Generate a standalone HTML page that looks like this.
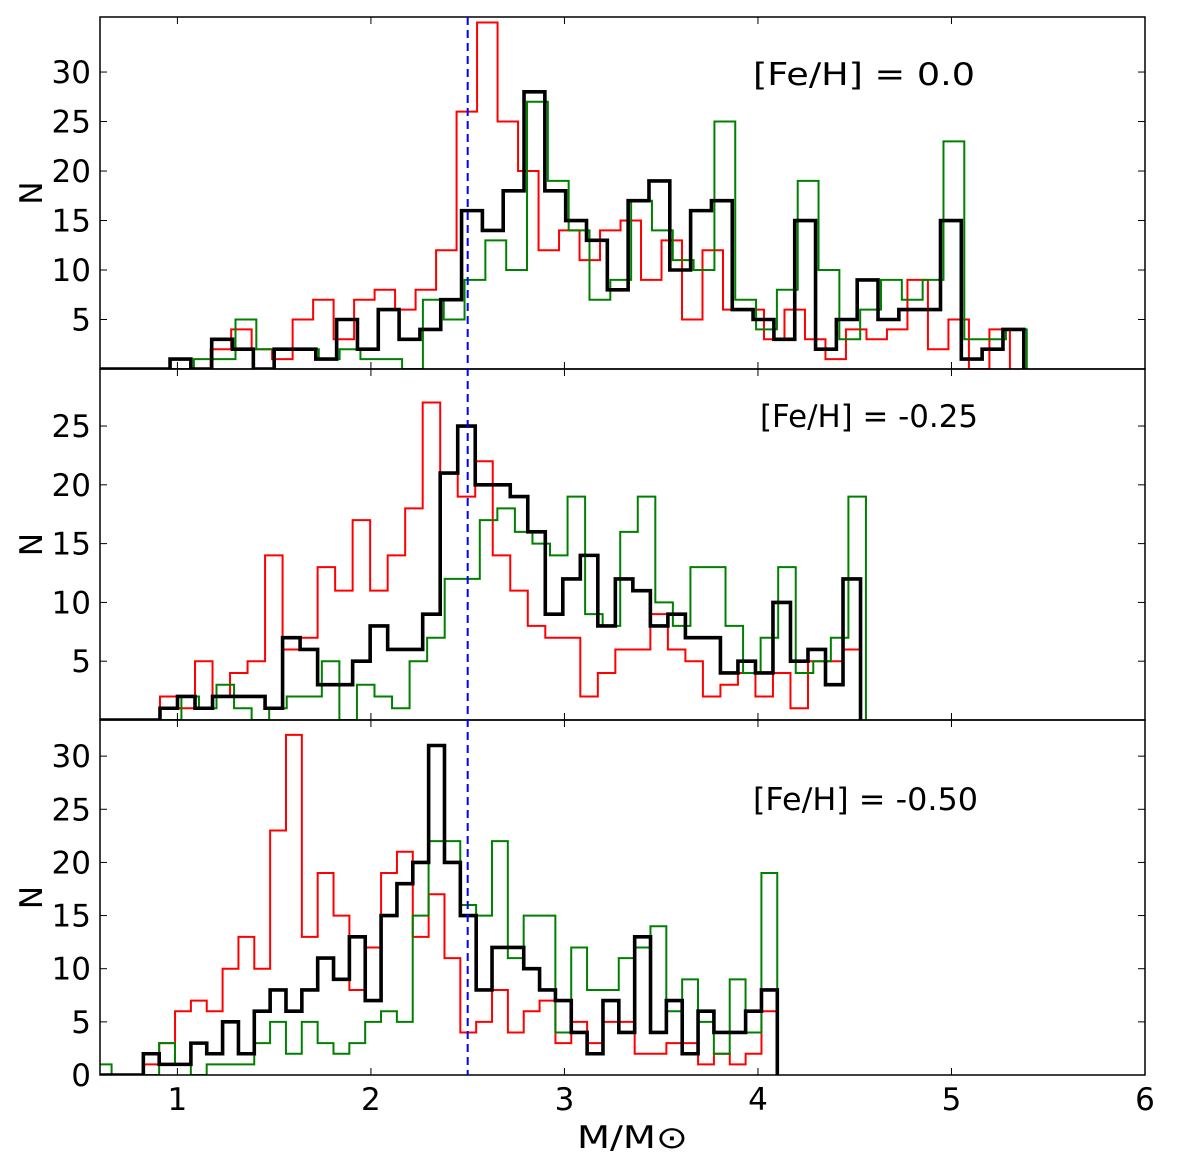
<!DOCTYPE html>
<html><head><meta charset="utf-8"><style>
html,body{margin:0;padding:0;background:#fff;}
svg{display:block;font-family:"DejaVu Sans","Liberation Sans",sans-serif;}
</style></head><body>
<svg id="chart" width="1200" height="1172" viewBox="0 0 1200 1172" xmlns="http://www.w3.org/2000/svg"></svg>
<script>
// ---- data ----
const xTicks = [1,2,3,4,5,6];
const panelLabels = ["[Fe/H] = 0.0","[Fe/H] = -0.25","[Fe/H] = -0.50"];
const yTicksTop = [5,10,15,20,25,30];
const yTicksMid = [5,10,15,20,25];
const yTicksBot = [0,5,10,15,20,25,30];
const dividingMass = 2.5;

// top panel [Fe/H]=0.0
const topRedStart = 0.96, topRedWidth = 0.1059;
const topRed = [1,0,2,4,2,1,5,7,3,7,8,6,8,12,26,35,25,20,12,14,11,14,15,9,13,5,12,6,6,3,6,3,1,4,3,4,9,2,5,0,4];
const topGreenStart = 1.085, topGreenWidth = 0.1076;
const topGreen = [1,1,5,2,2,2,1,2,1,1,0,7,5,9,13,10,27,19,14,7,9,17,14,11,10,25,7,4,8,19,10,3,6,9,7,9,23,3,3,4];
const topBlackStart = 0.962, topBlackWidth = 0.1076;
const topBlack = [1,0,3,2,0,2,2,1,5,2,6,3,4,7,16,14,18,28,18,15,13,8,17,19,10,16,17,6,5,3,15,2,5,9,5,6,6,15,1,2,4];

// middle panel [Fe/H]=-0.25
const midRedStart = 0.91, midRedWidth = 0.0905;
const midRed = [2,1,5,2,4,5,14,6,7,13,11,17,11,14,18,27,21,19,22,14,11,8,7,7,2,4,6,6,9,6,5,2,3,4,2,4,1,5,5,6];
const midGreenStart = 0.93, midGreenWidth = 0.0907;
const midGreen = [0,2,1,3,1,0,1,2,2,5,0,3,2,1,5,7,12,12,17,18,16,15,14,19,9,8,16,19,10,8,13,13,8,4,7,13,4,5,7,19];
const midBlackStart = 0.91, midBlackWidth = 0.0905;
const midBlack = [1,2,1,2,2,2,1,7,6,3,3,5,8,6,6,9,21,25,20,20,19,16,9,12,14,8,12,11,8,9,7,7,4,5,4,10,5,6,3,12];

// bottom panel [Fe/H]=-0.50
const botRedStart = 0.824, botRedWidth = 0.0819;
const botRed = [1,3,6,7,6,10,13,10,23,32,13,19,15,8,12,19,21,13,17,11,4,5,8,4,6,7,3,5,3,5,5,2,2,3,3,1,2,1,2,6];
const botGreenStart = 0.578, botGreenWidth = 0.0819;
const botGreen = [1,0,0,0,3,1,0,1,1,1,3,5,2,5,3,2,3,5,6,5,15,22,22,16,15,22,11,15,15,4,12,8,8,11,12,14,6,9,5,2,9,4,19];
const botBlackStart = 0.824, botBlackWidth = 0.0819;
const botBlack = [2,1,1,3,2,5,2,6,8,6,8,11,9,13,7,15,18,20,31,20,15,8,12,12,10,8,7,4,2,7,4,13,4,7,2,6,4,4,6,8];

// ---- layout ----
const NS = "http://www.w3.org/2000/svg";
const svg = document.getElementById("chart");
const X0 = 100, X1 = 1145, XMIN = 0.6, XMAX = 6.0;
const FS = 31;
function xs(v){ return X0 + (v - XMIN) * (X1 - X0) / (XMAX - XMIN); }
const panels = [
  {top:17, bottom:369, ymax:35.56, ticks:yTicksTop, label:panelLabels[0], lx:753, ly:85, lw:222, name:"top",
   series:[[topRed,topRedStart,topRedWidth,"#ff0000",2],[topGreen,topGreenStart,topGreenWidth,"#008000",2],[topBlack,topBlackStart,topBlackWidth,"#000000",3.6]]},
  {top:369, bottom:720, ymax:29.85, ticks:yTicksMid, label:panelLabels[1], lx:760, ly:427, lw:218, name:"middle",
   series:[[midRed,midRedStart,midRedWidth,"#ff0000",2],[midGreen,midGreenStart,midGreenWidth,"#008000",2],[midBlack,midBlackStart,midBlackWidth,"#000000",3.6]]},
  {top:720, bottom:1075, ymax:33.4, ticks:yTicksBot, label:panelLabels[2], lx:753, ly:810, lw:225, name:"bottom",
   series:[[botRed,botRedStart,botRedWidth,"#ff0000",2],[botGreen,botGreenStart,botGreenWidth,"#008000",2],[botBlack,botBlackStart,botBlackWidth,"#000000",3.6]]}
];
const seriesNames = ["red-histogram","green-histogram","black-histogram"];

function mk(tag, attrs){ const e = document.createElementNS(NS, tag); for (const k in attrs) e.setAttribute(k, attrs[k]); return e; }

const defs = mk("defs", {});
svg.appendChild(defs);

panels.forEach((p, pi) => {
  const ys = v => p.bottom - v * (p.bottom - p.top) / p.ymax;
  const g = mk("g", {});
  
  
  svg.appendChild(g);
  const cp = mk("clipPath", {id:"clip"+pi});
  cp.appendChild(mk("rect", {x:X0, y:p.top, width:X1-X0, height:p.bottom-p.top}));
  defs.appendChild(cp);

  const sg = mk("g", {"clip-path":"url(#clip"+pi+")"});
  g.appendChild(sg);
  p.series.forEach((s, si) => {
    const [vals, start, w, col, lw] = s;
    let d = "M" + xs(XMIN) + "," + ys(0) + " L" + xs(start) + "," + ys(0);
    vals.forEach((v, i) => {
      const a = start + i * w, b = start + (i + 1) * w;
      d += " L" + xs(a) + "," + ys(v) + " L" + xs(b) + "," + ys(v);
    });
    d += " L" + xs(start + vals.length * w) + "," + ys(0);
    const path = mk("path", {d:d, fill:"none", stroke:col, "stroke-width":lw, "stroke-linejoin":"miter"});
    
    
    sg.appendChild(path);
  });

  const fr = mk("rect", {x:X0, y:p.top, width:X1-X0, height:p.bottom-p.top, fill:"none", stroke:"#000", "stroke-width":1.5});
  
  
  g.appendChild(fr);

  p.ticks.forEach(t => {
    const y = ys(t);
    g.appendChild(mk("line", {x1:X0, x2:X0+7, y1:y, y2:y, stroke:"#000", "stroke-width":1}));
    g.appendChild(mk("line", {x1:X1-7, x2:X1, y1:y, y2:y, stroke:"#000", "stroke-width":1}));
    const tx = mk("text", {x:X0-9, y:y+11, "text-anchor":"end", "font-size":FS, fill:"#000"});
    tx.textContent = t;
    
    
    g.appendChild(tx);
  });
  xTicks.forEach(t => {
    const x = xs(t);
    g.appendChild(mk("line", {x1:x, x2:x, y1:p.bottom, y2:p.bottom-7, stroke:"#000", "stroke-width":1}));
    g.appendChild(mk("line", {x1:x, x2:x, y1:p.top, y2:p.top+7, stroke:"#000", "stroke-width":1}));
  });
  const yl = mk("text", {x:0, y:0, "font-size":FS, "text-anchor":"middle", transform:"translate(42," + ((p.top+p.bottom)/2) + ") rotate(-90)"});
  yl.textContent = "N";
  
  
  g.appendChild(yl);
  const an = mk("text", {x:p.lx, y:p.ly, "font-size":FS, fill:"#000", textLength:p.lw, lengthAdjust:"spacingAndGlyphs"});
  an.textContent = p.label;
  
  
  g.appendChild(an);
});

xTicks.forEach(t => {
  const tx = mk("text", {x:xs(t), y:1110, "text-anchor":"middle", "font-size":FS});
  tx.textContent = t;
  
  
  svg.appendChild(tx);
});
const xl = mk("text", {x:577, y:1148, "font-size":FS, textLength:111, lengthAdjust:"spacingAndGlyphs"});
xl.textContent = "M/M\u2299";


svg.appendChild(xl);

const dl = mk("line", {x1:xs(dividingMass), x2:xs(dividingMass), y1:17, y2:1075, stroke:"#0000ff", "stroke-width":2, "stroke-dasharray":"8,5"});


svg.appendChild(dl);
</script>
</body></html>
